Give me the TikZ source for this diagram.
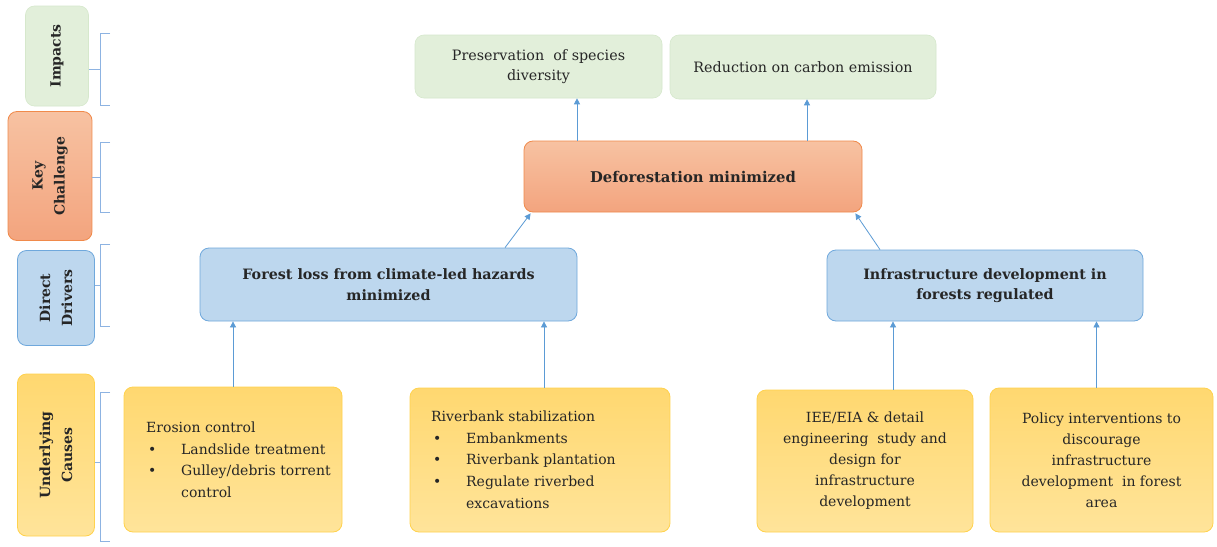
\documentclass[tikz,border=0pt]{standalone}
\usepackage{fontspec}
\setmainfont{DejaVu Serif}
\usetikzlibrary{arrows.meta,calc}
\definecolor{gfill}{HTML}{E2EFDA}
\definecolor{gline}{HTML}{D6E8CC}
\definecolor{otop}{HTML}{F7C2A2}
\definecolor{obot}{HTML}{F3A47E}
\definecolor{oline}{HTML}{F08A4B}
\definecolor{bfill}{HTML}{BDD7EE}
\definecolor{bline}{HTML}{6FA8DC}
\definecolor{ytop}{HTML}{FFD870}
\definecolor{ybot}{HTML}{FFE49A}
\definecolor{yline}{HTML}{FFD24D}
\definecolor{arr}{HTML}{5B9BD5}
\definecolor{brk}{HTML}{8DB3E2}
\definecolor{txt}{HTML}{262626}
\tikzset{
  base/.style={rounded corners=9pt, align=center, inner sep=2pt, text=txt},
  gbox/.style={base, fill=gfill, draw=gline, line width=0.6pt, font=\fontsize{14.3}{20}\selectfont},
  obox/.style={base, top color=otop, bottom color=obot, draw=oline, line width=0.8pt, font=\bfseries\fontsize{14.8}{20}\selectfont},
  bbox/.style={base, fill=bfill, draw=bline, line width=0.8pt, font=\bfseries\fontsize{14.3}{20.5}\selectfont},
  ybox/.style={base, top color=ytop, bottom color=ybot, draw=yline, line width=0.8pt, font=\fontsize{14}{21}\selectfont},
  lbl/.style={rotate=90, font=\bfseries\fontsize{14}{22}\selectfont},
  txtnode/.style={inner sep=0pt, align=left, text=txt, anchor=north west, font=\fontsize{14}{21.8}\selectfont},
  conn/.style={draw=arr, line width=0.8pt, -{Triangle[width=6pt,length=6pt]}},
  bracket/.style={draw=brk, line width=0.8pt}
}
\newcommand{\bul}{\hspace*{2pt}\makebox[33pt][l]{•}}
\newcommand{\ind}{\hspace*{35pt}}
\begin{document}
\begin{tikzpicture}[x=1pt,y=-1pt]
\useasboundingbox[fill=white] (0,0) rectangle (1217,546);

% left labels
\node[gbox, lbl, minimum width=100pt, minimum height=63pt] (imp) at (57,56) {Impacts};
\node[obox, lbl, minimum width=129pt, minimum height=84pt] (kc) at (50,176) {Key\\Challenge};
\node[bbox, lbl, minimum width=95pt, minimum height=77pt] (dd) at (56,298) {Direct\\Drivers};
\node[ybox, lbl, minimum width=162pt, minimum height=77pt] (uc) at (56,455) {Underlying\\Causes};

% brackets
\draw[bracket] (110,33) -- (100,33) -- (100,105) -- (110,105);
\draw[bracket] (imp.south |- 0,69) -- (100,69);
\draw[bracket] (110,142) -- (100,142) -- (100,212) -- (110,212);
\draw[bracket] (kc.south |- 0,177) -- (100,177);
\draw[bracket] (110,244) -- (100,244) -- (100,326) -- (110,326);
\draw[bracket] (dd.south |- 0,285) -- (100,285);
\draw[bracket] (110,392) -- (100,392) -- (100,541) -- (110,541);
\draw[bracket] (uc.south |- 0,462) -- (100,462);

% impacts
\node[gbox, minimum width=247pt, minimum height=63pt] (pres) at (538.5,66.5) {Preservation \ of species\\diversity};
\node[gbox, minimum width=266pt, minimum height=64pt] (red) at (803,67) {Reduction on carbon emission};

% key challenge
\node[obox, minimum width=338pt, minimum height=71pt] (def) at (693,176.5) {Deforestation minimized};

% direct drivers
\node[bbox, minimum width=377pt, minimum height=73pt] (fl) at (388.5,284.5) {Forest loss from climate-led hazards\\minimized};
\node[bbox, minimum width=316pt, minimum height=71pt] (inf) at (985,285.5) {Infrastructure development in\\forests regulated};

% underlying causes
\node[ybox, minimum width=218pt, minimum height=145pt] (ero) at (233,459.5) {};
\node[txtnode] (erot) at (146,421.5) {Erosion control\\\bul Landslide treatment\\\bul Gulley/debris torrent\\\ind control};
\node[ybox, minimum width=260pt, minimum height=144pt] (riv) at (540,460) {};
\node[txtnode] (rivt) at (431,410.5) {Riverbank stabilization\\\bul Embankments\\\bul Riverbank plantation\\\bul Regulate riverbed\\\ind excavations};
\node[ybox, minimum width=216pt, minimum height=142pt] (iee) at (865,461) {IEE/EIA \& detail\\engineering \ study and\\design for\\infrastructure\\development};
\node[ybox, minimum width=223pt, minimum height=144pt] (pol) at (1101.5,460) {Policy interventions to\\discourage\\infrastructure\\development \ in forest\\area};

% connectors
\draw[conn] ([xshift=-116pt]def.north) -- ([xshift=-116pt]def.north |- pres.south);
\draw[conn] ([xshift=114pt]def.north) -- ([xshift=114pt]def.north |- red.south);
\draw[conn] ([xshift=116.5pt]fl.north) -- ([xshift=7pt,yshift=-1pt]def.south west);
\draw[conn] ([xshift=-105pt]inf.north) -- ([xshift=-7pt,yshift=-1pt]def.south east);
\draw[conn] (ero.north) -- (ero.north |- fl.south);
\draw[conn] ([xshift=4pt]riv.north) -- ([xshift=4pt]riv.north |- fl.south);
\draw[conn] ([xshift=28pt]iee.north) -- ([xshift=28pt]iee.north |- inf.south);
\draw[conn] ([xshift=-5pt]pol.north) -- ([xshift=-5pt]pol.north |- inf.south);
\end{tikzpicture}
\end{document}
